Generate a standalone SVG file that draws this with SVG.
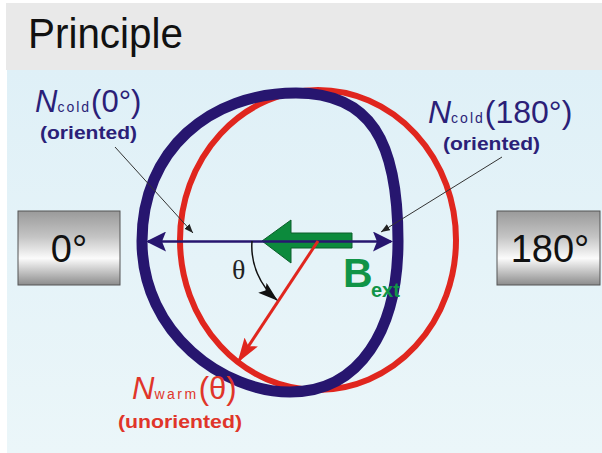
<svg xmlns="http://www.w3.org/2000/svg" width="602" height="453" viewBox="0 0 602 453">
<style>
.t{font-family:"Liberation Sans",Arial,sans-serif}
.blue{fill:#2b1f78}
.red{fill:#e0352a}
.bold{font-weight:bold}
.box{stroke:#555;stroke-width:1}
.leader{stroke:#333;stroke-width:1;fill:none}
</style>
<defs>
<linearGradient id="panel" x1="0" y1="0" x2="0" y2="1">
<stop offset="0" stop-color="#dff0f7"/>
<stop offset="1" stop-color="#ebf6f9"/>
</linearGradient>
<linearGradient id="metal" x1="0" y1="0" x2="0" y2="1">
<stop offset="0" stop-color="#9a9a9a"/>
<stop offset="0.35" stop-color="#c4c4c4"/>
<stop offset="0.64" stop-color="#fbfbfb"/>
<stop offset="1" stop-color="#8c8c8c"/>
</linearGradient>
<marker id="ablue" viewBox="0 0 20 20" refX="18" refY="10" markerWidth="20" markerHeight="20" markerUnits="userSpaceOnUse" orient="auto-start-reverse">
<path d="M0,0 L20,10 L0,20 L4,10 Z" fill="#27166f"/>
</marker>
<marker id="ared" viewBox="0 0 25 16" refX="24" refY="8" markerWidth="25" markerHeight="16" markerUnits="userSpaceOnUse" orient="auto">
<path d="M0,0 L25,8 L0,16 L5,8 Z" fill="#e0261e"/>
</marker>
<marker id="ablack" viewBox="0 0 20 13" refX="19" refY="6.5" markerWidth="20" markerHeight="13" markerUnits="userSpaceOnUse" orient="auto">
<path d="M0,0 L20,6.5 L0,13 L4,6.5 Z" fill="#111"/>
</marker>
<marker id="asmall" viewBox="0 0 9 7" refX="9" refY="3.5" markerWidth="9" markerHeight="7" markerUnits="userSpaceOnUse" orient="auto">
<path d="M0,0 L9,3.5 L0,7 Z" fill="#222"/>
</marker>
</defs>
<rect x="0" y="0" width="602" height="453" fill="#ffffff"/>
<rect x="6" y="3" width="596" height="67" fill="#e9e9e9"/>
<rect x="7" y="70" width="595" height="383" fill="url(#panel)"/>
<text class="t" x="28" y="48" font-size="42" textLength="155" lengthAdjust="spacingAndGlyphs" fill="#111">Principle</text>

<g id="warm-distribution">
<ellipse cx="318" cy="240" rx="138" ry="150" fill="none" stroke="#e0261e" stroke-width="6"/>
</g>
<g id="cold-distribution">
<path d="M142,241 C142,150 210,93 296,93 C370,93 398,140 398,241 C398,330 360,392 290,392 C225,392 142,335 142,241 Z" fill="none" stroke="#27166f" stroke-width="11"/>
</g>
<g id="bext-arrow">
<polygon points="262,241 291,220 291,233 352,233 352,248 291,248 291,263" fill="#0c8a3c" stroke="#0a5e2a" stroke-width="1"/>
</g>

<g id="connectors">
<line x1="148" y1="241.5" x2="391" y2="241.5" stroke="#27166f" stroke-width="2.5" marker-start="url(#ablue)" marker-end="url(#ablue)"/>
<line x1="318" y1="241" x2="238" y2="362" stroke="#e0261e" stroke-width="3" marker-end="url(#ared)"/>
<path d="M252,241 A70,70 0 0,0 277,300" fill="none" stroke="#111" stroke-width="1.5" marker-end="url(#ablack)"/>
<line class="leader" x1="115" y1="147" x2="193" y2="233" marker-end="url(#asmall)"/>
<line class="leader" x1="502" y1="157" x2="381" y2="232" marker-end="url(#asmall)"/>
</g>

<g id="box-0">
<rect class="box" x="18" y="211" width="102" height="74" fill="url(#metal)"/>
<text class="t" x="69" y="262" font-size="38" text-anchor="middle" fill="#111">0°</text>
</g>
<g id="box-180">
<rect class="box" x="497" y="211" width="103" height="74" fill="url(#metal)"/>
<text class="t" x="550" y="262" font-size="38" text-anchor="middle" fill="#111">180°</text>
</g>

<g id="label-cold0">
<text class="t blue" x="35" y="112" font-size="31"><tspan font-style="italic">N</tspan><tspan font-size="14" letter-spacing="2">cold</tspan><tspan>(0°)</tspan></text>
<text class="t blue bold" x="40" y="139" font-size="18" textLength="97" lengthAdjust="spacingAndGlyphs">(oriented)</text>
</g>
<g id="label-cold180">
<text class="t blue" x="428" y="123" font-size="32"><tspan font-style="italic">N</tspan><tspan font-size="14" letter-spacing="2">cold</tspan><tspan>(180°)</tspan></text>
<text class="t blue bold" x="443" y="150" font-size="18" textLength="97" lengthAdjust="spacingAndGlyphs">(oriented)</text>
</g>
<g id="label-warm">
<text class="t red" x="132" y="399" font-size="31"><tspan font-style="italic">N</tspan><tspan font-size="14" letter-spacing="2.5">warm</tspan><tspan>(θ)</tspan></text>
<text class="t red bold" x="118" y="428" font-size="18" textLength="124" lengthAdjust="spacingAndGlyphs">(unoriented)</text>
</g>
<g id="label-theta">
<text x="232" y="279" font-family="Liberation Serif, serif" font-size="28" fill="#222">θ</text>
</g>
<g id="label-bext">
<text class="t bold" x="343" y="287" font-size="41" fill="#109447">B</text>
<text class="t bold" x="371" y="297" font-size="20" fill="#109447">ext</text>
</g>
</svg>
